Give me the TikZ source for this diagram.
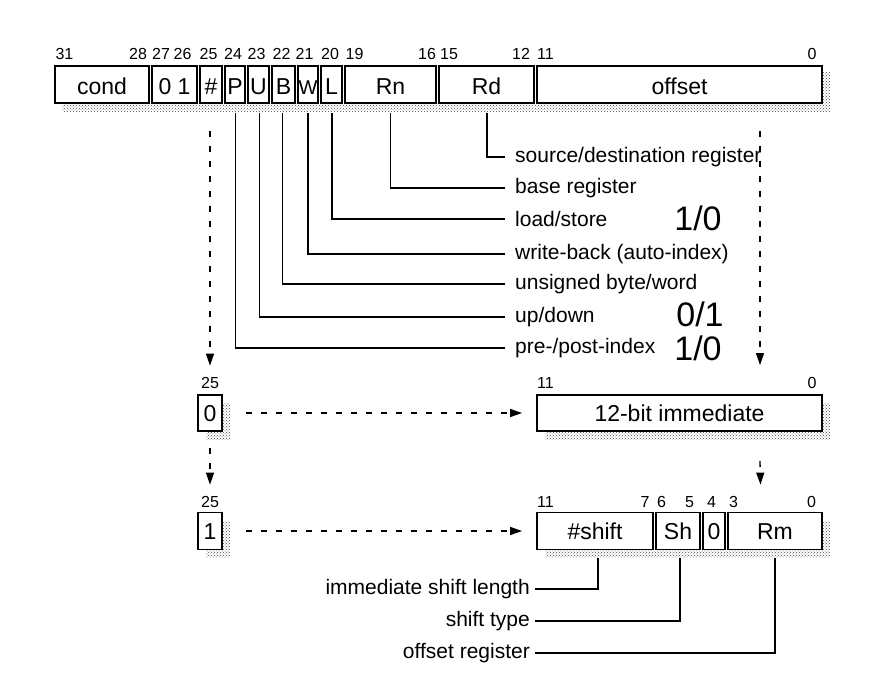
\documentclass[tikz,border=0pt]{standalone}
\usepackage{fontspec}
\setmainfont{Liberation Sans}
\usetikzlibrary{calc,arrows.meta,patterns}
\newcommand\dnt[1]{\raisebox{-2.5pt}{#1}}
\begin{document}
\begin{tikzpicture}[x=1pt,y=-1pt,
 fld/.style={draw,line width=1.8pt,fill=white,inner sep=0pt,minimum height=37pt,text height=16pt,text depth=0pt,font=\fontsize{23}{23}\selectfont},
 bitno/.style={inner sep=0pt,font=\fontsize{16}{16}\selectfont,anchor=base},
 lbl/.style={inner sep=0pt,font=\fontsize{21}{21}\selectfont},
 big/.style={inner sep=0pt,font=\fontsize{34}{34}\selectfont},
 shadow/.style={pattern=crosshatch dots,pattern color=black!70},
 conn/.style={line width=1.4pt},
 dasharrow/.style={line width=1.3pt,dash pattern=on 6pt off 9pt,-{Triangle[length=12pt,width=8pt]}}
]
\useasboundingbox (0,0) rectangle (874,692);

% ---------- top row ----------
\fill[shadow] (62,73) rectangle (830,112);
\fill[white] (55,66) rectangle (822,103);
\node[fld,minimum width=94pt] (cond) at (102,84.5) {\dnt{cond}};
\node[fld,minimum width=45pt] (ozero) at (174.5,84.5) {\dnt{0 1}};
\node[fld,minimum width=22pt] (hash) at (211,84.5) {\dnt{\#}};
\node[fld,minimum width=20pt] (P) at (235,84.5) {\dnt{P}};
\node[fld,minimum width=21pt] (U) at (258.5,84.5) {\dnt{U}};
\node[fld,minimum width=23pt] (B) at (283.5,84.5) {\dnt{B}};
\node[fld,minimum width=20pt,font=\fontsize{20}{20}\selectfont] (W) at (308,84.5) {\dnt{W}};
\node[fld,minimum width=21pt] (L) at (331.5,84.5) {\dnt{L}};
\node[fld,minimum width=91pt] (Rn) at (390.5,84.5) {\dnt{Rn}};
\node[fld,minimum width=95pt] (Rd) at (486.5,84.5) {\dnt{Rd}};
\node[fld,minimum width=285pt] (offset) at (679.5,84.5) {\dnt{offset}};

\node[bitno] (t31) at (64.5,60) {31};
\node[bitno] (t28) at (138,60) {28};
\node[bitno] (t27) at (161,60) {27};
\node[bitno] (t26) at (182.5,60) {26};
\node[bitno] (t25) at (208.5,60) {25};
\node[bitno] (t24) at (233,60) {24};
\node[bitno] (t23) at (256.5,60) {23};
\node[bitno] (t22) at (281.5,60) {22};
\node[bitno] (t21) at (304.5,60) {21};
\node[bitno] (t20) at (330,60) {20};
\node[bitno] (t19) at (354.5,60) {19};
\node[bitno] (t16) at (427,60) {16};
\node[bitno] (t15) at (449,60) {15};
\node[bitno] (t12) at (521,60) {12};
\node[bitno] (t11) at (545.5,60) {11};
\node[bitno] (t0) at (812,60) {0};

% ---------- field labels ----------
\node[lbl,anchor=west] (lsrc) at (515,157) {source/destination register};
\node[lbl,anchor=west] (lbase) at (515,188) {base register};
\node[lbl,anchor=west] (lload) at (515,219) {load/store};
\node[lbl,anchor=west] (lwb) at (515,254) {write-back (auto-index)};
\node[lbl,anchor=west] (lub) at (515,284) {unsigned byte/word};
\node[lbl,anchor=west] (lud) at (515,317) {up/down};
\node[lbl,anchor=west] (lpre) at (515,348) {pre-/post-index};

\node[big] (vL) at (698,218) {1/0};
\node[big] (vU) at (700,314) {0/1};
\node[big] (vP) at (698,348) {1/0};

\draw[conn] ($(Rd.south)+(0.5,9)$) |- ([xshift=-10pt]lsrc.west);
\draw[conn] ($(Rn.south)+(0,9)$) |- ([xshift=-10pt]lbase.west);
\draw[conn] ($(L.south)+(0.5,9)$) |- ([xshift=-10pt]lload.west);
\draw[conn] ($(W.south)+(0,9)$) |- ([xshift=-10pt]lwb.west);
\draw[conn] ($(B.south)+(-1,9)$) |- ([xshift=-10pt]lub.west);
\draw[conn] ($(U.south)+(1,9)$) |- ([xshift=-10pt]lud.west);
\draw[conn] ($(P.south)+(0.5,9)$) |- ([xshift=-10pt]lpre.west);

% ---------- middle row ----------
\node[bitno] (m25) at (210,388) {25};
\fill[shadow] (206,403) rectangle (230,439);
\node[fld,minimum width=24pt,minimum height=36pt] (zero) at (210,413) {0};
\node[bitno] (m11) at (545.5,388) {11};
\node[bitno] (m0) at (812,388) {0};
\fill[shadow] (545,403) rectangle (830,439);
\node[fld,minimum width=285pt,minimum height=36pt] (imm) at (679.5,413) {12-bit immediate};

% ---------- bottom row ----------
\node[bitno] (b25) at (210,507) {25};
\fill[shadow] (206,521) rectangle (230,557);
\node[fld,minimum width=24pt,minimum height=37pt] (one) at (210,531) {1};

\node[bitno] (b11) at (545.5,507) {11};
\node[bitno] (b7) at (645,507) {7};
\node[bitno] (b6) at (661.5,507) {6};
\node[bitno] (b5) at (689.5,507) {5};
\node[bitno] (b4) at (711.5,507) {4};
\node[bitno] (b3) at (733.5,507) {3};
\node[bitno] (b0) at (811.5,507) {0};
\fill[shadow] (545,521) rectangle (830,557);
\fill[white] (537,513) rectangle (822,549);
\node[fld,minimum width=116pt,minimum height=37pt] (shamt) at (595,531) {\#shift};
\node[fld,minimum width=44pt,minimum height=37pt] (Sh) at (678,531) {Sh};
\node[fld,minimum width=22pt,minimum height=37pt] (zb) at (714,531) {0};
\node[fld,minimum width=94pt,minimum height=37pt] (Rm) at (775,531) {Rm};

\node[lbl,anchor=east] (limm) at (530,589) {immediate shift length};
\node[lbl,anchor=east] (lsh) at (530,621) {shift type};
\node[lbl,anchor=east] (lrm) at (530,653) {offset register};
\draw[conn] ($(shamt.south)+(3,8)$) |- ([xshift=5pt]limm.east);
\draw[conn] ($(Sh.south)+(2,8)$) |- ([xshift=5pt]lsh.east);
\draw[conn] ($(Rm.south)+(0,8)$) |- ([xshift=5pt]lrm.east);

% ---------- dashed arrows ----------
\draw[dasharrow] ($(hash.south)+(-1,27)$) -- ($(m25.north)+(0,-11)$);
\draw[dasharrow] ($(offset.south)+(80.5,27)$) -- ($(imm.north)+(80.5,-29)$);
\draw[dasharrow] ($(zero.south)+(0,16)$) -- ($(b25.north)+(0,-11)$);
\draw[dasharrow] ($(imm.south)+(80.5,29)$) -- ($(Rm.north)+(-14.5,-27)$);
\draw[dasharrow] ($(zero.east)+(23,0)$) -- ($(imm.west)+(-14,0)$);
\draw[dasharrow] ($(one.east)+(23,0)$) -- ($(shamt.west)+(-14,0)$);
\end{tikzpicture}
\end{document}
